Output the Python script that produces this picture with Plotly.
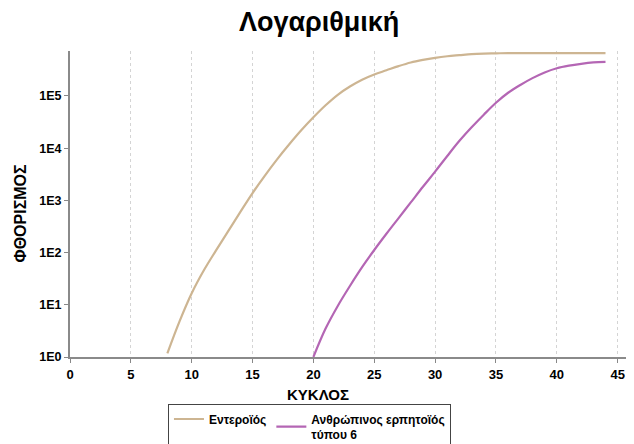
import plotly.graph_objects as go

# Data
entero_cycles = [8, 9, 10, 11, 12, 13, 14, 15, 16, 17, 18, 19, 20, 21, 22, 23, 24, 25, 26,
                 27, 28, 29, 30, 31, 32, 33, 34, 35, 36, 37, 38, 39, 40, 41, 42, 43, 44]
entero_values = [1.17, 4.8, 16.6, 45.7, 110, 257, 603, 1380, 2950, 6030, 11700, 21900,
                 38900, 66100, 105000, 151000, 204000, 257000, 309000, 372000, 437000,
                 490000, 537000, 575000, 603000, 631000, 646000, 653000, 661000, 661000,
                 661000, 661000, 661000, 661000, 661000, 661000, 661000]

hhv6_cycles = [20, 21, 22, 23, 24, 25, 26, 27, 28, 29, 30, 31, 32, 33, 34, 35, 36, 37,
               38, 39, 40, 41, 42, 43, 44]
hhv6_values = [1.0, 3.5, 9.5, 22.9, 52.5, 112, 229, 457, 912, 1820, 3550, 7080, 13800,
               25100, 43700, 74100, 115000, 162000, 219000, 282000, 339000, 380000,
               412000, 437000, 447000]

series_names = ["Εντεροϊός", "Ανθρώπινος ερπητοϊός<br>τύπου 6"]
y_tickvals = [1, 10, 100, 1000, 10000, 100000]
y_ticktext = ["1E0", "1E1", "1E2", "1E3", "1E4", "1E5"]
x_tickvals = [0, 5, 10, 15, 20, 25, 30, 35, 40, 45]

FONT = "Liberation Sans, Arial, sans-serif"

fig = go.Figure()
fig.add_trace(go.Scatter(x=entero_cycles, y=entero_values, mode="lines",
                         name="<b>" + series_names[0] + "</b>",
                         line=dict(color="#cdb592", width=2.2, shape="spline")))
fig.add_trace(go.Scatter(x=hhv6_cycles, y=hhv6_values, mode="lines",
                         name="<b>" + series_names[1] + "</b>",
                         line=dict(color="#b466b4", width=2.2, shape="spline")))

# The page body adds an 8px offset, so the figure is laid out 8px up/left,
# and made taller than the window so that the legend box is clipped at the
# bottom just like in the reference.
fig.update_layout(
    width=626, height=480,
    margin=dict(l=62, r=1, t=43, b=131),
    paper_bgcolor="white", plot_bgcolor="white",
    font=dict(family=FONT, color="black"),
    title=dict(text="<b>Λογαριθμική</b>", x=0.497, xanchor="center",
               y=0.9708, yanchor="middle", font=dict(size=27, family=FONT)),
    showlegend=True,
    legend=dict(orientation="h", x=0.174, xanchor="left", y=-0.152, yanchor="top",
                bordercolor="#444444", borderwidth=1,
                font=dict(size=12, family=FONT),
                tracegroupgap=0, itemwidth=30),
    annotations=[
        dict(text="<b>ΚΥΚΛΟΣ</b>", xref="paper", yref="paper", x=0.4405, y=0,
             yshift=-37, xanchor="center", yanchor="middle", showarrow=False,
             font=dict(size=15, family=FONT)),
        dict(text="<b>ΦΘΟΡΙΣΜΟΣ</b>", xref="paper", yref="paper", x=-0.0888, y=0.469,
             textangle=-90, xanchor="center", yanchor="middle", showarrow=False,
             font=dict(size=16, family=FONT)),
    ],
)

fig.update_xaxes(
    range=[0, 46.26], tickvals=x_tickvals,
    ticktext=["<b>%d</b>" % v for v in x_tickvals],
    ticks="outside", ticklen=4, tickcolor="#888888", tickwidth=1,
    showline=True, linecolor="#8a8a8a", linewidth=2,
    showgrid=True, gridcolor="#d4d4d4", griddash="dot", gridwidth=1,
    zeroline=False, automargin=False,
    tickfont=dict(size=13, family=FONT),
)
fig.update_yaxes(
    type="log", range=[0, 5.86], tickvals=y_tickvals,
    ticktext=["<b>%s</b>" % t for t in y_ticktext],
    ticks="outside", ticklen=4, tickcolor="#888888", tickwidth=1,
    showline=True, linecolor="#8a8a8a", linewidth=2,
    showgrid=False, zeroline=False, automargin=False,
    tickfont=dict(size=12.5, family=FONT),
)

fig.write_html("out.html")
